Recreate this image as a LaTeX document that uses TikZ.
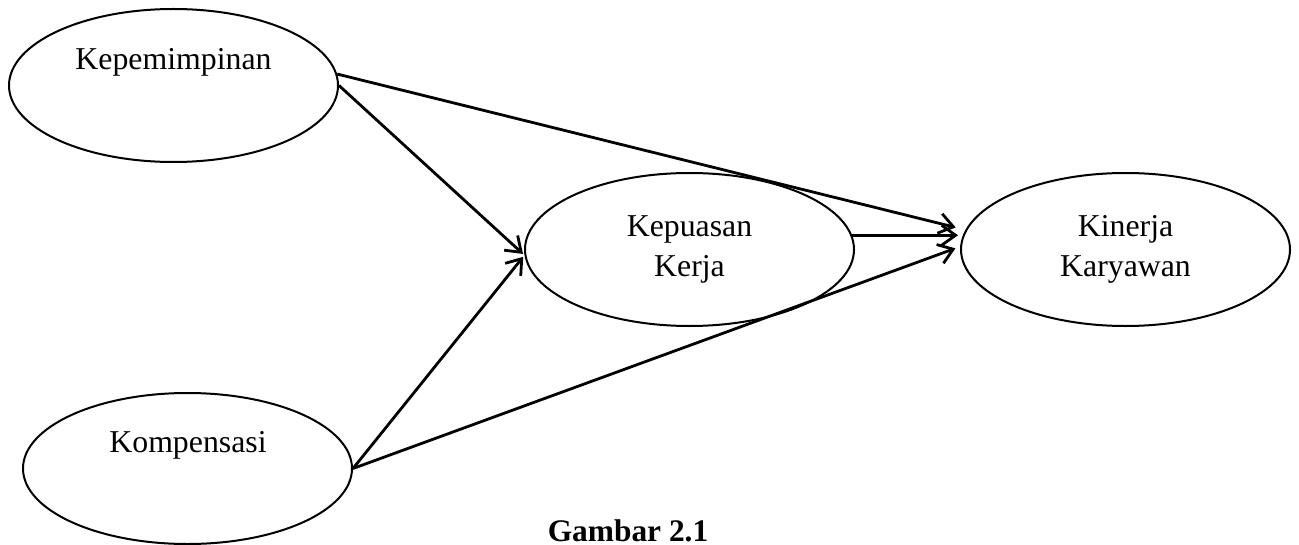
\documentclass[tikz,border=0pt]{standalone}
\usepackage{fontspec}
\setmainfont{Liberation Serif}
\usetikzlibrary{arrows.meta,shapes.geometric}
\begin{document}
\begin{tikzpicture}[x=0.5pt,y=-0.5pt,
  construct/.style={draw,ellipse,line width=1pt,inner sep=0pt,
    minimum width=164.5pt,minimum height=76.5pt,align=center,
    font=\fontsize{15.9}{20}\selectfont},
  name text/.style={inner sep=0pt,anchor=base,font=\fontsize{15.9}{20}\selectfont},
  link/.style={line width=1.4pt,-{Straight Barb[length=7pt,width=10pt]}},
  figcaption/.style={inner sep=0pt,anchor=base,font=\fontsize{15.7}{20}\selectfont\bfseries}]
\useasboundingbox (0,0) rectangle (1299,545);

% latent variables
\node[construct] (kep) at (173.5,85.5) {};
\node[name text] (kep-label) at (173.5,70) {Kepemimpinan};
\node[construct,minimum height=75.5pt] (komp) at (187.5,468.5) {};
\node[name text] (komp-label) at (188,452) {Kompensasi};
\node[construct] (puas) at (689.5,249.5) {Kepuasan\\Kerja};
\node[construct] (kin) at (1125.5,249.5) {Kinerja\\Karyawan};

% paths
\draw[link,shorten >=5pt] (kep.4) -- (kin.173);
\draw[link,shorten >=1pt] (kep.east) -- (puas.182);
\draw[link,shorten >=1pt] (puas.5) -- (puas.5 -| kin.west);
\draw[link,shorten >=1pt] (komp.east) -- (puas.182);
\draw[link,shorten >=2.5pt] (komp.east) -- (kin.179);

% figure caption
\node[figcaption] (cap) at (628,541) {Gambar 2.1};
\end{tikzpicture}
\end{document}
